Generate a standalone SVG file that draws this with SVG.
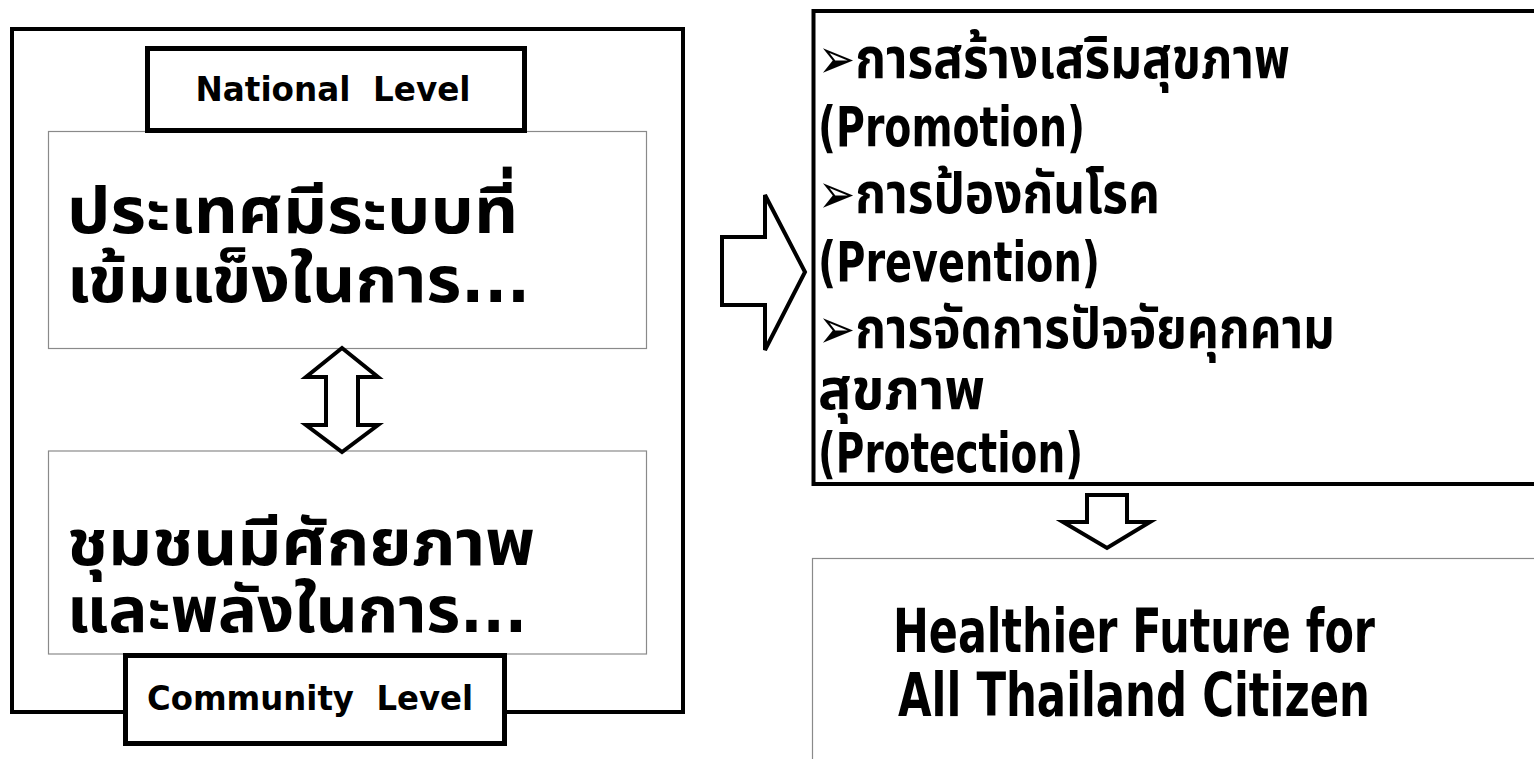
<svg xmlns="http://www.w3.org/2000/svg" width="1534" height="759" viewBox="0 0 1534 759">
<style>
.thick{fill:#fff;stroke:#000;stroke-width:4}
.lbl{fill:#fff;stroke:#000;stroke-width:5}
.thin{fill:#fff;stroke:#8a8a8a;stroke-width:1.2}
.arrow{fill:#fff;stroke:#000;stroke-width:4;stroke-linejoin:miter}
text{font-family:"DejaVu Sans Condensed","DejaVu Sans","Noto Sans Thai","Tahoma","Loma","Garuda",sans-serif;font-weight:bold;fill:#000}
.th{font-size:64px}
.lv{font-size:34px}
.rth{font-size:56px}
.ren{font-size:55px}
.hf{font-size:60px}
</style>
<rect width="1534" height="759" fill="#fff"/>
<g id="outer-frame"><rect class="thick" x="12" y="29" width="671" height="683"/></g>
<g id="national-box">
<rect class="thin" x="48.5" y="131.5" width="598" height="217"/>
<text class="th" x="67" y="233" textLength="451" lengthAdjust="spacingAndGlyphs">ประเทศมีระบบที่</text>
<text class="th" x="67" y="302" textLength="463" lengthAdjust="spacingAndGlyphs">เข้มแข็งในการ...</text>
</g>
<g id="national-label">
<rect class="lbl" x="147.5" y="48.5" width="377" height="82"/>
<text class="lv" x="333" y="101" text-anchor="middle" textLength="275" lengthAdjust="spacingAndGlyphs">National&#160; Level</text>
</g>
<g id="community-box">
<rect class="thin" x="48.5" y="451" width="598" height="203"/>
<text class="th" x="67" y="565" textLength="468" lengthAdjust="spacingAndGlyphs">ชุมชนมีศักยภาพ</text>
<text class="th" x="67" y="632" textLength="460" lengthAdjust="spacingAndGlyphs">และพลังในการ...</text>
</g>
<g id="community-label">
<rect class="lbl" x="125.5" y="655.5" width="379" height="88"/>
<text class="lv" x="310" y="710" text-anchor="middle" textLength="326" lengthAdjust="spacingAndGlyphs">Community&#160; Level</text>
</g>
<g id="strategies-box">
<rect class="thick" x="813.5" y="11" width="760" height="473" stroke-width="3.5"/>
<text class="rth" x="818" y="78" textLength="472" lengthAdjust="spacingAndGlyphs">➢การสร้างเสริมสุขภาพ</text>
<text class="ren" x="818" y="146" textLength="267" lengthAdjust="spacingAndGlyphs">(Promotion)</text>
<text class="rth" x="818" y="213" textLength="342" lengthAdjust="spacingAndGlyphs">➢การป้องกันโรค</text>
<text class="ren" x="818" y="281" textLength="282" lengthAdjust="spacingAndGlyphs">(Prevention)</text>
<text class="rth" x="818" y="348" textLength="517" lengthAdjust="spacingAndGlyphs">➢การจัดการปัจจัยคุกคาม</text>
<text class="rth" x="818" y="409" textLength="167" lengthAdjust="spacingAndGlyphs">สุขภาพ</text>
<text class="ren" x="818" y="472" textLength="265" lengthAdjust="spacingAndGlyphs">(Protection)</text>
</g>
<g id="outcome-box">
<rect class="thin" x="812.5" y="558.5" width="760" height="300"/>
<text class="hf" x="1134" y="652" text-anchor="middle" textLength="482" lengthAdjust="spacingAndGlyphs">Healthier Future for</text>
<text class="hf" x="1134" y="716" text-anchor="middle" textLength="472" lengthAdjust="spacingAndGlyphs">All Thailand Citizen</text>
</g>
<g id="connectors">
<polygon class="arrow" points="342,348 378,377 358,377 358,425 378,425 342,452 306,425 326,425 326,377 306,377"/>
<polygon class="arrow" points="722,237 765,237 765,195 805,272 765,350 765,305 722,305"/>
<polygon class="arrow" points="1087,495 1127,495 1127,522 1150,522 1107,548 1063,522 1087,522"/>
</g>
</svg>
